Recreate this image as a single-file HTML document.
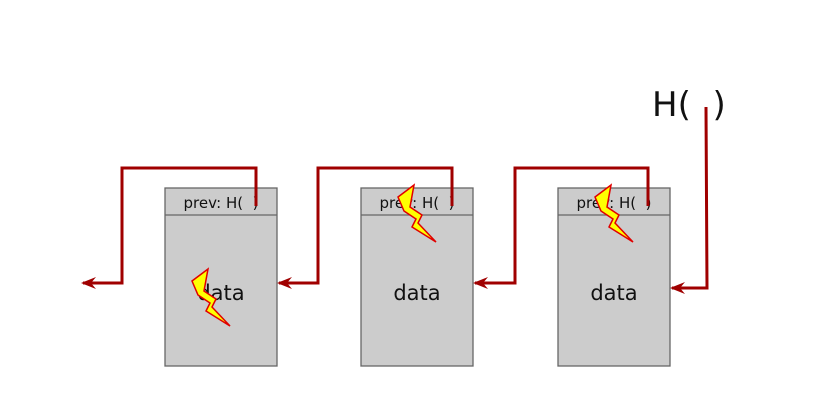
<!DOCTYPE html>
<html><head><style>body{margin:0;background:#fff} text{white-space:pre}</style></head><body>
<svg width="832" height="404" xmlns="http://www.w3.org/2000/svg" font-family="DejaVu Sans, Liberation Sans, sans-serif">
<defs>
<marker id="a" markerWidth="16" markerHeight="12" refX="13" refY="6" orient="auto" markerUnits="userSpaceOnUse">
<path d="M0,0 L15,6 L0,12 L5,6 Z" fill="#a00000"/></marker>
<g id="bolt"><polygon points="0,12 16,0 12,22 24,30 20,38 38,57 14,42 18,34 6,26" fill="#ffff00" stroke="#e00000" stroke-width="1.5"/></g>
</defs>
<g fill="#cccccc" stroke="#666" stroke-width="1.3">
<rect x="165" y="188" width="112" height="178"/><line x1="165" y1="215" x2="277" y2="215"/>
<rect x="361" y="188" width="112" height="178"/><line x1="361" y1="215" x2="473" y2="215"/>
<rect x="558" y="188" width="112" height="178"/><line x1="558" y1="215" x2="670" y2="215"/>
</g>
<g font-size="15" fill="#111">
<text x="221" y="208" text-anchor="middle" xml:space="preserve">prev: H(  )</text>
<text x="417" y="208" text-anchor="middle" xml:space="preserve">prev: H(  )</text>
<text x="614" y="208" text-anchor="middle" xml:space="preserve">prev: H(  )</text>
</g>
<g font-size="21" fill="#111" text-anchor="middle">
<text x="221" y="300">data</text><text x="417" y="300">data</text><text x="614" y="300">data</text>
</g>
<text x="652" y="116" font-size="34" fill="#111" xml:space="preserve">H(  )</text>
<g fill="none" stroke="#a00000" stroke-width="3" marker-end="url(#a)">
<polyline points="256,206 256,168 122,168 122,283 83,283"/>
<polyline points="452,206 452,168 318,168 318,283 279,283"/>
<polyline points="648,206 648,168 515,168 515,283 475,283"/>
<polyline points="706,107 707,288 672,288"/>
</g>
<use href="#bolt" x="192" y="269"/>
<use href="#bolt" x="398" y="185"/>
<use href="#bolt" x="595" y="185"/>
</svg>
</body></html>
